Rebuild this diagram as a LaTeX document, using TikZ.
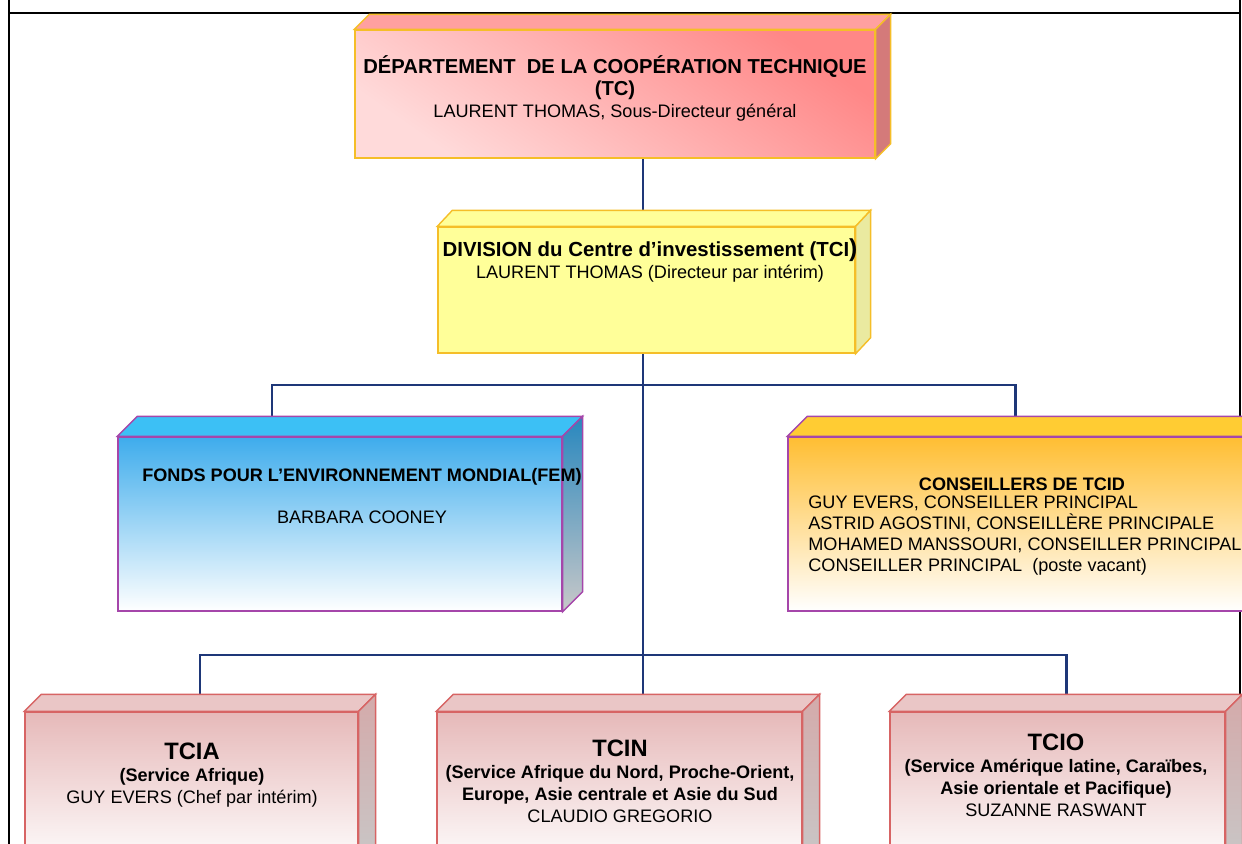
\documentclass[tikz,border=0pt]{standalone}
\usepackage{fontspec}
\setmainfont{Liberation Sans}
\usetikzlibrary{positioning,backgrounds}

\definecolor{tcfront}{RGB}{255,135,135}
\definecolor{tclight}{RGB}{255,218,218}
\definecolor{tctop}{RGB}{255,160,160}
\definecolor{tcside}{RGB}{212,122,122}
\definecolor{goldedge}{RGB}{245,190,40}
\definecolor{tcifront}{RGB}{255,255,153}
\definecolor{tciside}{RGB}{234,234,160}
\definecolor{femtop}{RGB}{60,192,245}
\definecolor{femfront}{RGB}{62,172,236}
\definecolor{femside}{RGB}{40,135,190}
\definecolor{consfront}{RGB}{255,190,50}
\definecolor{constop}{RGB}{255,204,51}
\definecolor{purpleedge}{RGB}{165,70,170}
\definecolor{svcfront}{RGB}{230,185,185}
\definecolor{svctop}{RGB}{234,198,198}
\definecolor{svcside}{RGB}{212,170,170}
\definecolor{svcedge}{RGB}{215,100,100}
\definecolor{sidegray}{RGB}{200,200,200}
\definecolor{linkblue}{RGB}{30,55,120}

\tikzset{
  orgbox/.style={rectangle, inner sep=0pt, line width=0.8pt},
  face/.style={line width=0.8pt},
  link/.style={draw=linkblue, line width=1.7pt},
  frameline/.style={line width=1.1pt},
  txt/.style={align=center, inner sep=0pt, font=\fontsize{10.3}{12.5}\selectfont},
  bigbold/.style={font=\fontsize{11.5}{12.5}\selectfont\bfseries}
}

\begin{document}
\begin{tikzpicture}[x=0.02cm, y=-0.02cm]
\useasboundingbox (0,0) rectangle (1242,844);
\clip (0,0) rectangle (1242,844);

% page frame
\draw[frameline] (9,0) -- (9,844);
\draw[frameline] (1240,0) -- (1240,844);
\draw[frameline] (9,13) -- (1240,13);

% department
\node[orgbox, draw=goldedge, top color=tcfront, bottom color=tclight, shading angle=-35,
      minimum width=10.4cm, minimum height=2.56cm] (tc) at (615,94) {};
\draw[face, draw=goldedge, fill=tctop] (tc.north west) -- ++(15,-15) -- ([shift={(15,-15)}]tc.north east) -- (tc.north east) -- cycle;
\draw[face, draw=goldedge, fill=tcside] (tc.north east) -- ([shift={(15,-15)}]tc.north east) -- ([shift={(15,-15)}]tc.south east) -- (tc.south east) -- cycle;
\node[txt] (tclabel) at (615,88) {{\fontsize{11.5}{12.5}\selectfont\bfseries DÉPARTEMENT\ \ DE LA COOPÉRATION TECHNIQUE}\\
  {\fontsize{11.5}{12.5}\selectfont\bfseries (TC)}\\
  LAURENT THOMAS, Sous-Directeur général};

% division
\node[orgbox, draw=goldedge, fill=tcifront, minimum width=8.34cm, minimum height=2.52cm] (tci) at (646.5,290) {};
\draw[face, draw=goldedge, fill=tcifront] (tci.north west) -- ++(15,-16) -- ([shift={(15,-16)}]tci.north east) -- (tci.north east) -- cycle;
\draw[face, draw=goldedge, fill=tciside] (tci.north east) -- ([shift={(15,-16)}]tci.north east) -- ([shift={(15,-16)}]tci.south east) -- (tci.south east) -- cycle;
\node[txt] (tcilabel) at (650,260) {{\fontsize{11.6}{12.5}\selectfont\bfseries DIVISION du Centre d’investissement (TCI{\fontsize{14}{12.5}\selectfont )}}\\
  LAURENT THOMAS (Directeur par intérim)};

% FEM
\node[orgbox, draw=purpleedge, top color=femfront, bottom color=white,
      minimum width=8.88cm, minimum height=3.48cm] (fem) at (340,524) {};
\draw[face, draw=purpleedge, fill=femtop] (fem.north west) -- ++(20,-20) -- ([shift={(20,-20)}]fem.north east) -- (fem.north east) -- cycle;
\draw[face, draw=purpleedge, top color=femside, bottom color=sidegray] (fem.north east) -- ([shift={(20,-20)}]fem.north east) -- ([shift={(20,-20)}]fem.south east) -- (fem.south east) -- cycle;
\node[txt] (femlabel) at (362,496) {\textbf{FONDS POUR L’ENVIRONNEMENT MONDIAL(FEM)}\\[0.4cm]
  BARBARA COONEY};

% advisers
\node[orgbox, draw=purpleedge, top color=consfront, bottom color=white,
      minimum width=9.48cm, minimum height=3.48cm] (cons) at (1025,524) {};
\draw[face, draw=purpleedge, fill=constop] (cons.north west) -- ++(20,-20) -- ([shift={(20,-20)}]cons.north east) -- (cons.north east) -- cycle;
\node[txt] (constitle) at (1022,484) {\textbf{CONSEILLERS DE TCID}};
\node[txt, align=left, anchor=west, font=\fontsize{10.3}{11.9}\selectfont] (conslist) at (808,535.5)
  {GUY EVERS, CONSEILLER PRINCIPAL\\
   ASTRID AGOSTINI, CONSEILLÈRE PRINCIPALE\\
   MOHAMED MANSSOURI, CONSEILLER PRINCIPAL\\
   CONSEILLER PRINCIPAL\ \ (poste vacant)};

% services
\node[orgbox, draw=svcedge, top color=svcfront, bottom color=white,
      minimum width=6.66cm, minimum height=3.16cm] (tcia) at (191.5,791) {};
\draw[face, draw=svcedge, fill=svctop] (tcia.north west) -- ++(17,-17) -- ([shift={(17,-17)}]tcia.north east) -- (tcia.north east) -- cycle;
\draw[face, draw=svcedge, top color=svcside, bottom color=sidegray] (tcia.north east) -- ([shift={(17,-17)}]tcia.north east) -- ([shift={(17,-17)}]tcia.south east) -- (tcia.south east) -- cycle;
\node[txt] (tcialabel) at (192,775) {{\fontsize{13.5}{12.5}\selectfont\bfseries TCIA}\\
  \textbf{(Service Afrique)}\\
  GUY EVERS (Chef par intérim)};

\node[orgbox, draw=svcedge, top color=svcfront, bottom color=white,
      minimum width=7.3cm, minimum height=3.16cm] (tcin) at (619.5,791) {};
\draw[face, draw=svcedge, fill=svctop] (tcin.north west) -- ++(17,-17) -- ([shift={(17,-17)}]tcin.north east) -- (tcin.north east) -- cycle;
\draw[face, draw=svcedge, top color=svcside, bottom color=sidegray] (tcin.north east) -- ([shift={(17,-17)}]tcin.north east) -- ([shift={(17,-17)}]tcin.south east) -- (tcin.south east) -- cycle;
\node[txt] (tcinlabel) at (620,781.5) {{\fontsize{13.5}{12.5}\selectfont\bfseries TCIN}\\
  \textbf{(Service Afrique du Nord, Proche-Orient,}\\
  \textbf{Europe, Asie centrale et Asie du Sud}\\
  CLAUDIO GREGORIO};

\node[orgbox, draw=svcedge, top color=svcfront, bottom color=white,
      minimum width=6.7cm, minimum height=3.16cm] (tcio) at (1057.5,791) {};
\draw[face, draw=svcedge, fill=svctop] (tcio.north west) -- ++(17,-17) -- ([shift={(17,-17)}]tcio.north east) -- (tcio.north east) -- cycle;
\draw[face, draw=svcedge, top color=svcside, bottom color=sidegray] (tcio.north east) -- ([shift={(17,-17)}]tcio.north east) -- ([shift={(17,-17)}]tcio.south east) -- (tcio.south east) -- cycle;
\node[txt] (tciolabel) at (1056,775.5) {{\fontsize{13.5}{12.5}\selectfont\bfseries TCIO}\\
  \textbf{(Service Amérique latine, Caraïbes,}\\
  \textbf{Asie orientale et Pacifique)}\\
  SUZANNE RASWANT};

% connectors, behind the boxes
\coordinate (spine) at (643,385);
\coordinate (busAl) at (272,385);
\coordinate (busAr) at (1015,385);
\coordinate (busBl) at (200,655);
\coordinate (busBr) at (1066,655);
\begin{pgfonlayer}{background}
\draw[link] (tc.south -| spine) -- (tci.north -| spine);
\draw[link] (tci.south -| spine) -- (tcin.north -| spine);
\draw[link] (fem.north -| busAl) -- (busAl) -- (busAr) -- (cons.north -| busAr);
\draw[link] (tcia.north -| busBl) -- (busBl) -- (busBr) -- (tcio.north -| busBr);
\end{pgfonlayer}
\end{tikzpicture}
\end{document}
